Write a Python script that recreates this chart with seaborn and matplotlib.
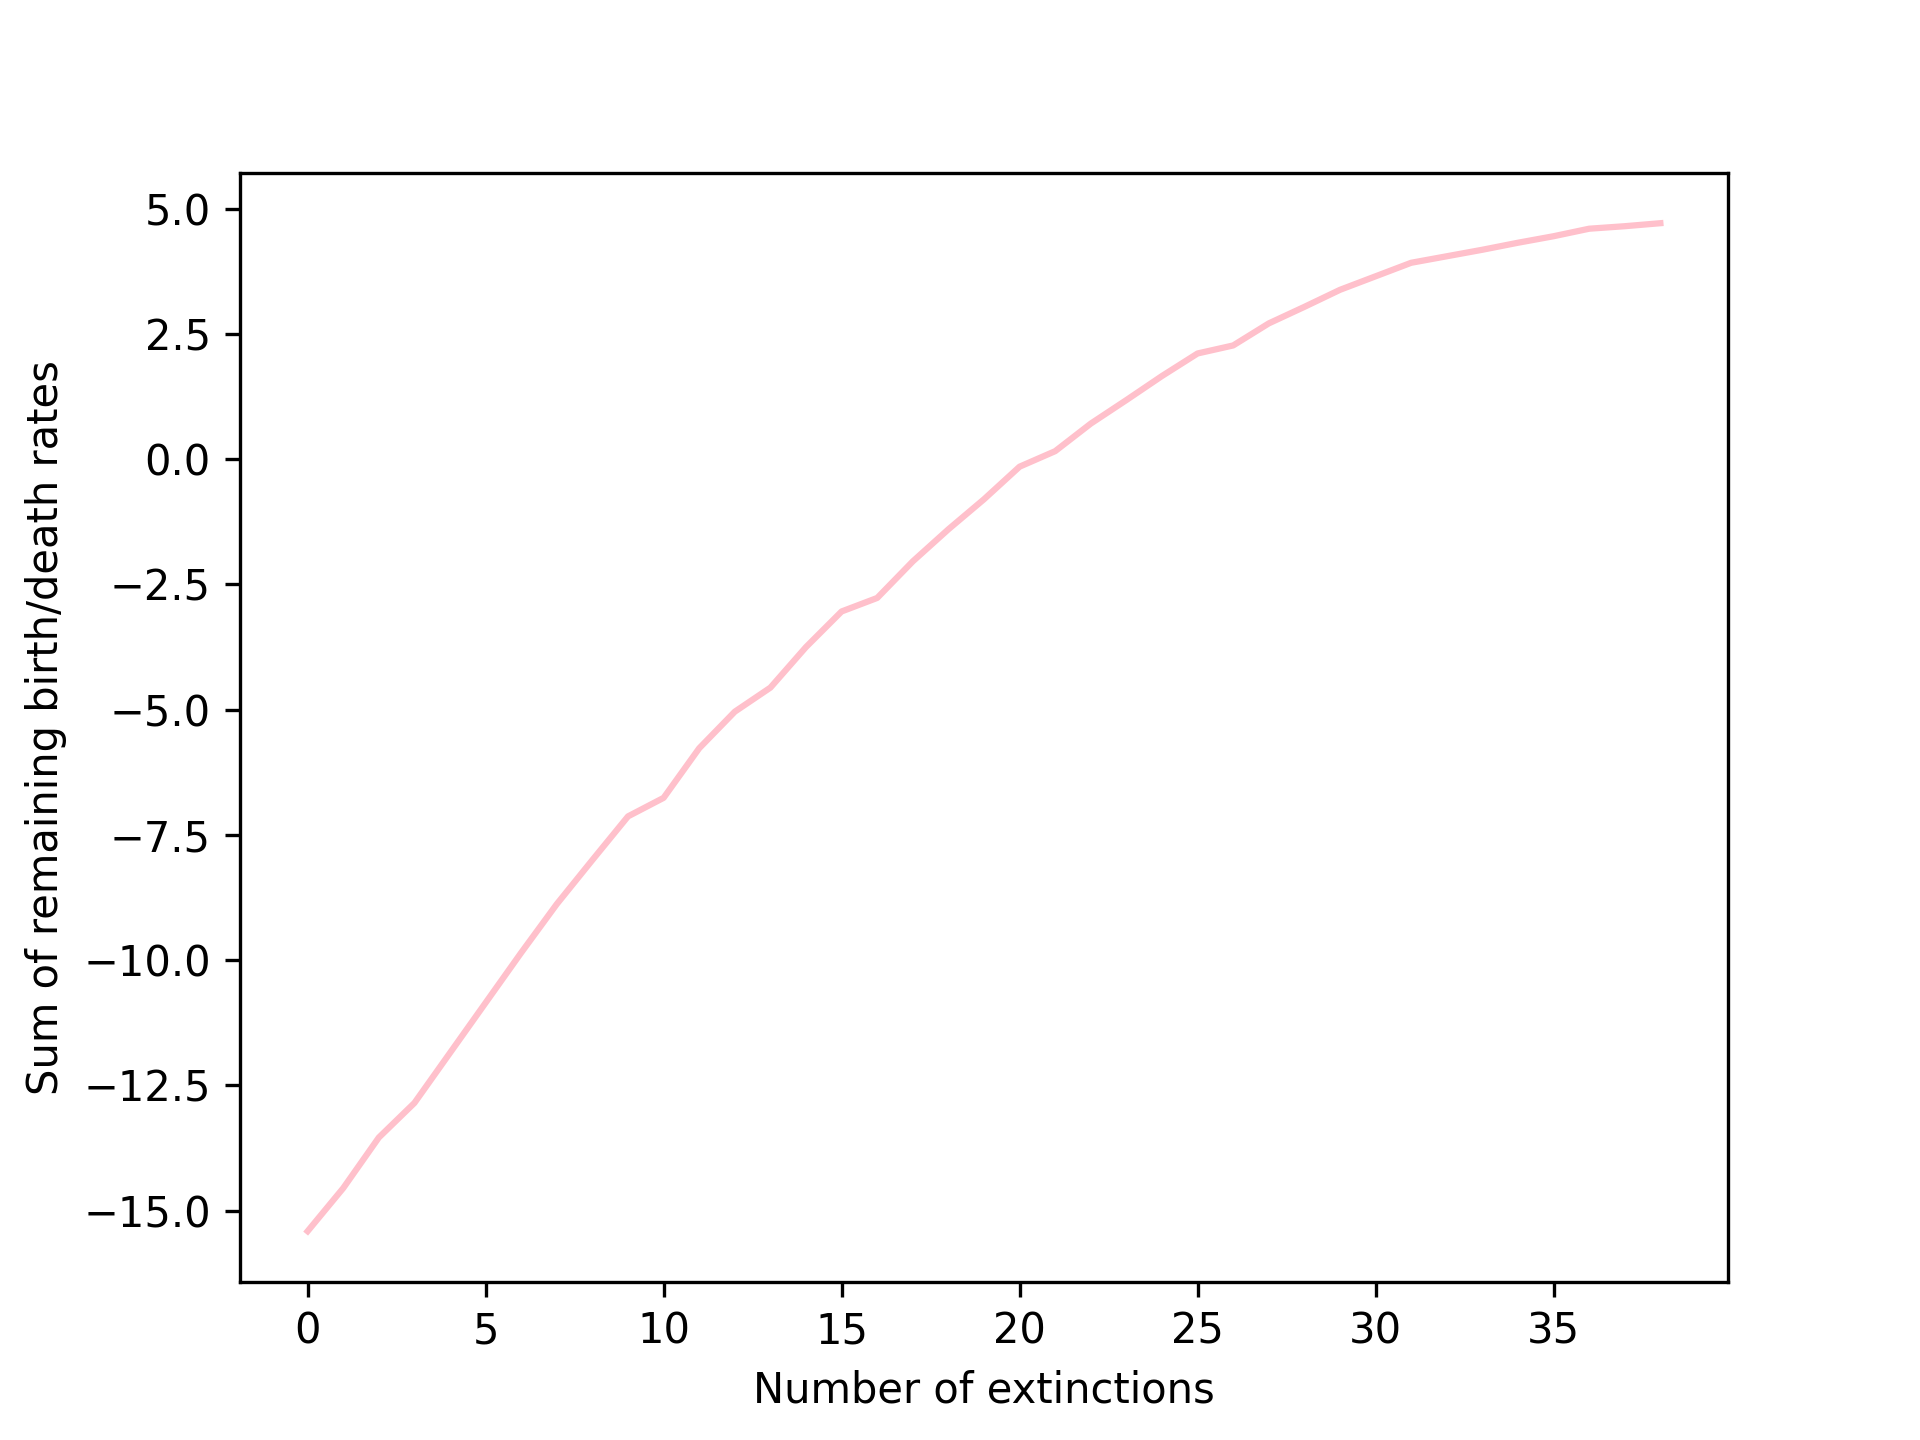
import matplotlib
import matplotlib.pyplot as plt
import numpy as np
import seaborn as sns

matplotlib.use("Agg")

# values
extinctions = np.arange(0, 39)
rate_sum = [
    -15.41, -14.55, -13.54, -12.85, -11.85, -10.85, -9.85, -8.88, -8.00, -7.13,
    -6.76, -5.77, -5.04, -4.56, -3.75, -3.04, -2.77, -2.04, -1.40, -0.80,
    -0.15, 0.16, 0.71, 1.18, 1.66, 2.11, 2.27, 2.71, 3.04, 3.38,
    3.65, 3.92, 4.05, 4.18, 4.32, 4.45, 4.60, 4.65, 4.71,
]

fig, ax = plt.subplots(figsize=(6.4, 4.8))
sns.lineplot(x=extinctions, y=rate_sum, color="pink", linewidth=1.5, ax=ax)
ax.set_xlabel("Number of extinctions")
ax.set_ylabel("Sum of remaining birth/death rates")

fig.savefig("out.png", dpi=300)
plt.close(fig)
